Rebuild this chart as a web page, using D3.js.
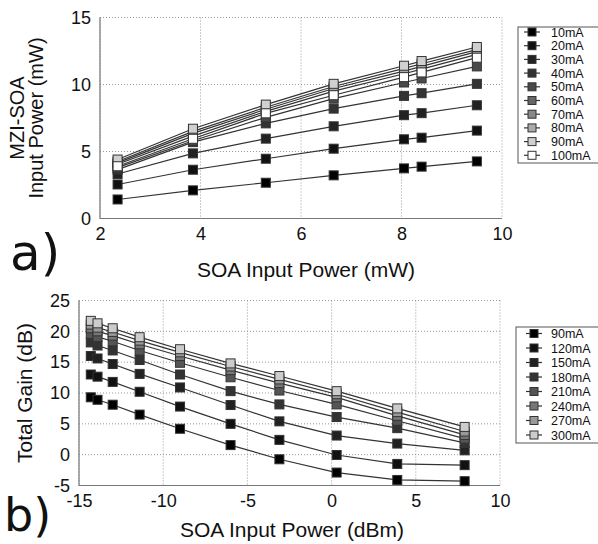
<!DOCTYPE html>
<html>
<head>
<meta charset="utf-8">
<script src="https://cdn.jsdelivr.net/npm/d3@7"></script>
<style>
    body { margin: 0; background: #fff; }
    svg { display: block; }
    svg text { font-family: "Liberation Sans", Arial, sans-serif; fill: #111; }
    .grid line { stroke: #999; stroke-dasharray: 1,2; }
    .axis path, .axis line { display: none; }
    .axis text { font-size: 18px; font-family: "Liberation Sans", Arial, sans-serif; }
    .frame { stroke: #777; stroke-width: 1.2; fill: none; }
    .series-line { fill: none; stroke: #333; stroke-width: 1.2; }
    .legend-box { fill: #fff; stroke: #555; stroke-width: 1; }
    .legend text { font-size: 12.5px; }
    .title { font-size: 21px; }
    .ytitle { font-size: 20px; }
    .letter { font-family: "DejaVu Sans", sans-serif !important; font-size: 50px; }
</style>
</head>
<body>
<div id="chart"></div>
<script>

// DATA

// a) MZI-SOA input power vs SOA input power
var topX = [2.35, 3.85, 5.3, 6.65, 8.05, 8.4, 9.5];
var topLabels = ['10mA', '20mA', '30mA', '40mA', '50mA', '60mA', '70mA', '80mA', '90mA', '100mA'];
var top10  = [1.42, 2.1, 2.67, 3.22, 3.74, 3.87, 4.26];
var top20  = [2.54, 3.64, 4.46, 5.21, 5.91, 6.03, 6.56];
var top30  = [3.32, 4.86, 5.96, 6.88, 7.71, 7.86, 8.45];
var top40  = [3.65, 5.7, 7.1, 8.2, 9.15, 9.35, 10.05];
var top50  = [3.8, 5.8, 7.55, 8.95, 10.15, 10.45, 11.35];
var top60  = [4.05, 6.15, 8.0, 9.5, 10.8, 11.15, 12.25];
var top70  = [4.15, 6.35, 8.15, 9.7, 11.0, 11.35, 12.45];
var top80  = [4.25, 6.5, 8.3, 9.85, 11.2, 11.55, 12.6];
var top90  = [4.4, 6.7, 8.5, 10.05, 11.4, 11.75, 12.8];
var top100 = [3.9, 5.95, 7.85, 9.2, 10.55, 10.9, 12.0];
var topSeries = [top10, top20, top30, top40, top50, top60, top70, top80, top90, top100];
var topXTicks = [2, 4, 6, 8, 10];
var topYTicks = [0, 5, 10, 15];

// b) Total gain vs SOA input power
var botX = [-14.3, -13.9, -13.0, -11.4, -9.0, -6.0, -3.1, 0.3, 3.9, 7.9];
var botLabels = ['90mA', '120mA', '150mA', '180mA', '210mA', '240mA', '270mA', '300mA'];
var bot90  = [9.3, 8.9, 8.1, 6.5, 4.2, 1.55, -0.75, -2.9, -4.1, -4.3];
var bot120 = [13.0, 12.65, 11.8, 10.2, 7.8, 5.0, 2.4, -0.05, -1.5, -1.7];
var bot150 = [16.0, 15.6, 14.7, 13.1, 10.9, 8.05, 5.4, 3.1, 1.8, 0.7];
var bot180 = [18.2, 17.7, 16.9, 15.35, 13.0, 10.3, 8.15, 6.1, 4.3, 1.9];
var bot210 = [19.6, 19.1, 18.4, 16.9, 14.9, 12.55, 10.4, 8.15, 5.5, 2.6];
var bot240 = [20.5, 20.0, 19.3, 17.9, 16.0, 13.7, 11.6, 9.3, 6.3, 3.2];
var bot270 = [21.1, 20.6, 19.9, 18.5, 16.6, 14.3, 12.2, 9.8, 6.9, 3.75];
var bot300 = [21.7, 21.3, 20.5, 19.05, 17.1, 14.8, 12.75, 10.3, 7.5, 4.5];
var botSeries = [bot90, bot120, bot150, bot180, bot210, bot240, bot270, bot300];
var botXTicks = [-15, -10, -5, 0, 5, 10];
var botYTicks = [-5, 0, 5, 10, 15, 20, 25];


// STYLES

var topFills = ['#000', '#111', '#222', '#333', '#4a4a4a', '#666', '#888', '#aaa', '#d0d0d0', '#fff'];
var botFills = ['#000', '#111', '#222', '#333', '#555', '#777', '#999', '#ccc'];


// HELPERS

// Plain hyphen for negatives, like the original plot
function plainNum( d ) {
    return String( d );
}

// Draws one panel: grid, frame, tick labels, series and legend
function drawPanel( svg, opts ) {

    var x = d3.scaleLinear().domain( opts.xDomain ).range( [opts.left, opts.right] );
    var y = d3.scaleLinear().domain( opts.yDomain ).range( [opts.bottom, opts.top] );

    var g = svg.append( 'g' );

    // Grid
    var grid = g.append( 'g' ).attr( 'class', 'grid' );
    grid.selectAll( '.gx' ).data( opts.xTicks ).enter().append( 'line' )
        .attr( 'x1', function( d ) { return x( d ); } )
        .attr( 'x2', function( d ) { return x( d ); } )
        .attr( 'y1', opts.top )
        .attr( 'y2', opts.bottom );
    grid.selectAll( '.gy' ).data( opts.yTicks ).enter().append( 'line' )
        .attr( 'x1', opts.left )
        .attr( 'x2', opts.right )
        .attr( 'y1', function( d ) { return y( d ); } )
        .attr( 'y2', function( d ) { return y( d ); } );

    // Solid left / bottom edges
    g.append( 'path' )
        .attr( 'class', 'frame' )
        .attr( 'd', 'M' + opts.left + ',' + opts.top + 'V' + opts.bottom + 'H' + opts.right );

    // Tick labels
    g.append( 'g' )
        .attr( 'class', 'axis' )
        .attr( 'transform', 'translate(0,' + opts.bottom + ')' )
        .call( d3.axisBottom( x ).tickValues( opts.xTicks ).tickFormat( plainNum ).tickSize( 0 ).tickPadding( 9 ) );
    g.append( 'g' )
        .attr( 'class', 'axis' )
        .attr( 'transform', 'translate(' + opts.left + ',0)' )
        .call( d3.axisLeft( y ).tickValues( opts.yTicks ).tickFormat( plainNum ).tickSize( 0 ).tickPadding( 9 ) );
    g.selectAll( '.axis' ).attr( 'font-family', null ).attr( 'font-size', null );

    // Series
    var line = d3.line()
        .x( function( d, i ) { return x( opts.xs[i] ); } )
        .y( function( d ) { return y( d ); } );

    var ms = 9;
    opts.series.forEach( function( s, k ) {
        var sg = g.append( 'g' );
        sg.append( 'path' )
            .attr( 'class', 'series-line' )
            .attr( 'd', line( s ) );
        sg.selectAll( 'rect' ).data( s ).enter().append( 'rect' )
            .attr( 'x', function( d, i ) { return x( opts.xs[i] ) - ms / 2; } )
            .attr( 'y', function( d ) { return y( d ) - ms / 2; } )
            .attr( 'width', ms )
            .attr( 'height', ms )
            .attr( 'fill', opts.fills[k] )
            .attr( 'stroke', '#333' )
            .attr( 'stroke-width', 1 );
    } );

    // Legend
    var lg = svg.append( 'g' ).attr( 'class', 'legend' );
    lg.append( 'rect' )
        .attr( 'class', 'legend-box' )
        .attr( 'x', opts.legend.x )
        .attr( 'y', opts.legend.y )
        .attr( 'width', opts.legend.w )
        .attr( 'height', opts.legend.h );
    opts.labels.forEach( function( lab, k ) {
        var cy = opts.legend.y0 + k * opts.legend.step;
        var cx = opts.legend.mx;
        lg.append( 'line' )
            .attr( 'x1', cx - 8 ).attr( 'x2', cx + 8 )
            .attr( 'y1', cy ).attr( 'y2', cy )
            .attr( 'stroke', '#333' ).attr( 'stroke-width', 1.2 );
        lg.append( 'rect' )
            .attr( 'x', cx - 4 ).attr( 'y', cy - 4 )
            .attr( 'width', 8 ).attr( 'height', 8 )
            .attr( 'fill', opts.fills[k] )
            .attr( 'stroke', '#333' );
        lg.append( 'text' )
            .attr( 'x', opts.legend.tx )
            .attr( 'y', cy + 4.5 )
            .text( lab );
    } );
}


// MAIN

var svg = d3.select( '#chart' ).append( 'svg' )
    .attr( 'width', 598 )
    .attr( 'height', 544 );

drawPanel( svg, {
    xDomain: [2, 10], yDomain: [0, 15],
    left: 100, right: 502, top: 17.5, bottom: 218.5,
    xTicks: topXTicks, yTicks: topYTicks,
    xs: topX, series: topSeries, fills: topFills, labels: topLabels,
    legend: { x: 518, y: 27, w: 82, h: 136, y0: 32, step: 13.7, mx: 532, tx: 551 }
} );

drawPanel( svg, {
    xDomain: [-15, 10], yDomain: [-5, 25],
    left: 79, right: 500, top: 300.5, bottom: 485.5,
    xTicks: botXTicks, yTicks: botYTicks,
    xs: botX, series: botSeries, fills: botFills, labels: botLabels,
    legend: { x: 516, y: 327, w: 84, h: 116, y0: 333.5, step: 14.5, mx: 534, tx: 551 }
} );

// Axis titles
svg.append( 'text' )
    .attr( 'class', 'title' )
    .attr( 'x', 306 ).attr( 'y', 277 )
    .attr( 'text-anchor', 'middle' )
    .text( 'SOA Input Power (mW)' );
svg.append( 'text' )
    .attr( 'class', 'title' )
    .attr( 'x', 292 ).attr( 'y', 537 )
    .attr( 'text-anchor', 'middle' )
    .text( 'SOA Input Power (dBm)' );

svg.append( 'text' )
    .attr( 'class', 'ytitle' )
    .attr( 'transform', 'translate(24,118) rotate(-90)' )
    .attr( 'text-anchor', 'middle' )
    .text( 'MZI-SOA' );
svg.append( 'text' )
    .attr( 'class', 'ytitle' )
    .attr( 'transform', 'translate(43,118) rotate(-90)' )
    .attr( 'text-anchor', 'middle' )
    .text( 'Input Power (mW)' );
svg.append( 'text' )
    .attr( 'class', 'title' )
    .attr( 'transform', 'translate(32,393) rotate(-90)' )
    .attr( 'text-anchor', 'middle' )
    .text( 'Total Gain (dB)' );

// Panel letters
svg.append( 'text' )
    .attr( 'class', 'letter' )
    .attr( 'x', 10 ).attr( 'y', 270 )
    .text( 'a)' );
svg.append( 'text' )
    .attr( 'class', 'letter' )
    .attr( 'x', 4 ).attr( 'y', 531 )
    .style( 'font-size', '46px' )
    .text( 'b)' );

</script>
</body>
</html>
